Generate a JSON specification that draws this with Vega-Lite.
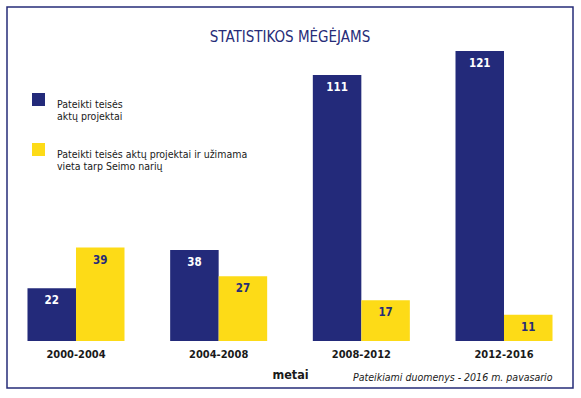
{
  "$schema": "https://vega.github.io/schema/vega-lite/v6.json",
  "width": 566,
  "height": 381,
  "autosize": "none",
  "padding": {"left": 7, "top": 7, "right": 8, "bottom": 10},
  "background": "white",
  "config": {
    "font": "Liberation Sans Narrow, DejaVu Sans Condensed, sans-serif",
    "view": {"stroke": "#262C78", "strokeWidth": 1.5}
  },
  "title": {
    "text": "STATISTIKOS MĖGĖJAMS",
    "color": "#262C78",
    "fontSize": 15,
    "fontWeight": "normal",
    "offset": -38,
    "anchor": "middle"
  },
  "data": {
    "values": [
      {"period": "2000-2004", "series": "Pateikti teisės aktų projektai", "value": 22},
      {"period": "2000-2004", "series": "Pateikti teisės aktų projektai ir užimama vieta tarp Seimo narių", "value": 39},
      {"period": "2004-2008", "series": "Pateikti teisės aktų projektai", "value": 38},
      {"period": "2004-2008", "series": "Pateikti teisės aktų projektai ir užimama vieta tarp Seimo narių", "value": 27},
      {"period": "2008-2012", "series": "Pateikti teisės aktų projektai", "value": 111},
      {"period": "2008-2012", "series": "Pateikti teisės aktų projektai ir užimama vieta tarp Seimo narių", "value": 17},
      {"period": "2012-2016", "series": "Pateikti teisės aktų projektai", "value": 121},
      {"period": "2012-2016", "series": "Pateikti teisės aktų projektai ir užimama vieta tarp Seimo narių", "value": 11}
    ]
  },
  "encoding": {
    "x": {
      "field": "period",
      "type": "nominal",
      "sort": null,
      "scale": {"paddingInner": 0.32, "paddingOuter": 0.1436},
      "axis": {
        "title": "metai",
        "orient": "bottom",
        "offset": -47,
        "domain": false,
        "ticks": false,
        "labelAngle": 0,
        "labelFontSize": 11,
        "labelFontWeight": "bold",
        "labelColor": "#1a1a1a",
        "labelPadding": 7,
        "titleFontSize": 12.5,
        "titleFontWeight": "bold",
        "titleColor": "#1a1a1a",
        "titlePadding": 9
      }
    },
    "xOffset": {
      "field": "series",
      "type": "nominal",
      "scale": {
        "domain": ["Pateikti teisės aktų projektai", "Pateikti teisės aktų projektai ir užimama vieta tarp Seimo narių"],
        "paddingInner": 0,
        "paddingOuter": 0
      }
    },
    "y": {
      "field": "value",
      "type": "quantitative",
      "scale": {"domain": [-19.6, 139.4], "nice": false, "zero": false},
      "axis": {
        "orient": "right",
        "title": "Pateikiami duomenys - 2016 m. pavasario",
        "labels": false,
        "ticks": false,
        "domain": false,
        "grid": false,
        "titleAngle": 0,
        "titleX": -21,
        "titleY": 370,
        "titleAlign": "right",
        "titleBaseline": "middle",
        "titleFontStyle": "italic",
        "titleFontWeight": "normal",
        "titleFontSize": 10.5,
        "titleColor": "#1a1a1a"
      }
    }
  },
  "layer": [
    {
      "mark": {"type": "bar"},
      "encoding": {
        "y2": {"datum": 0},
        "color": {
          "field": "series",
          "type": "nominal",
          "scale": {
            "domain": ["Pateikti teisės aktų projektai", "Pateikti teisės aktų projektai ir užimama vieta tarp Seimo narių"],
            "range": ["#232A7A", "#FDDB17"]
          },
          "legend": {
            "orient": "none",
            "legendX": 25,
            "legendY": 86,
            "title": null,
            "padding": 0,
            "symbolType": "square",
            "symbolSize": 169,
            "symbolStrokeWidth": 0,
            "labelFontSize": 10.5,
            "labelColor": "#1a1a1a",
            "labelOffset": 12,
            "labelLimit": 400,
            "labelBaseline": "top",
            "rowPadding": 20,
            "labelExpr": "datum.label == 'Pateikti teisės aktų projektai' ? ['Pateikti teisės', 'aktų projektai'] : ['Pateikti teisės aktų projektai ir užimama', 'vieta tarp Seimo narių']"
          }
        }
      }
    },
    {
      "mark": {"type": "text", "baseline": "middle", "dy": 13, "fontWeight": "bold", "fontSize": 11.5},
      "encoding": {
        "text": {"field": "value", "type": "quantitative"},
        "color": {
          "condition": {"test": "datum.series == 'Pateikti teisės aktų projektai'", "value": "white"},
          "value": "#262C78"
        }
      }
    }
  ]
}
